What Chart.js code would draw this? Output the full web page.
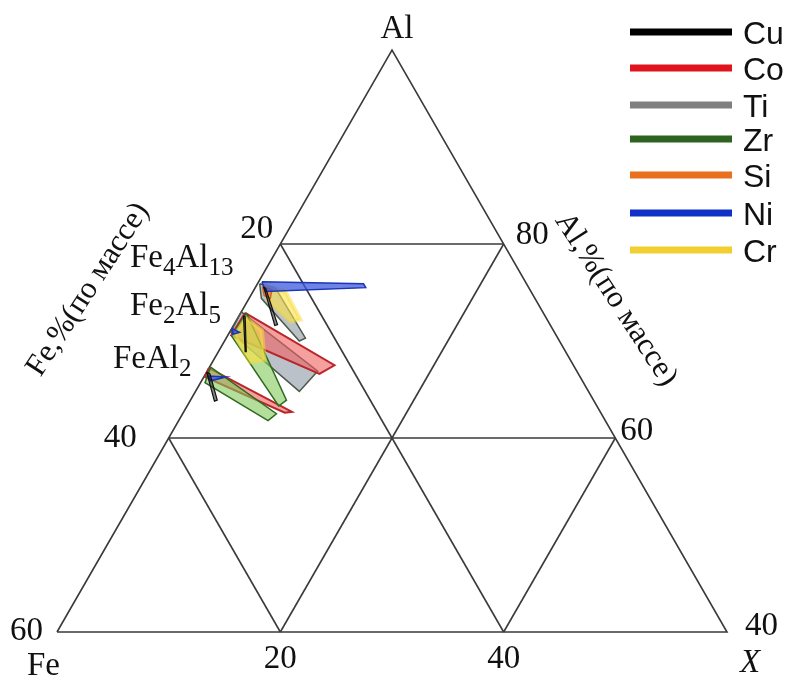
<!DOCTYPE html>
<html>
<head>
<meta charset="utf-8">
<script src="https://cdn.jsdelivr.net/npm/chart.js@4"></script>
<style>
body { margin: 0; background: #fff; }
</style>
</head>
<body>
<canvas id="ternary" width="792" height="680"></canvas>
<script>
// every point is [Al, X] in mass %, Fe = 100 - Al - X
var elements = ["Cu", "Co", "Ti", "Zr", "Si", "Ni", "Cr"];

var Cu = [
  [[75.6, 0.7], [75.4, 1.0], [71.7, 3.9], [71.6, 3.7]],
  [[72.6, 0.4], [72.5, 0.6], [68.9, 2.5], [68.9, 2.4]],
  [[66.8, 0.0], [66.6, 0.4], [63.9, 2.4], [63.8, 2.2]]
];
var Co = [
  [[72.9, 0.4], [67.5, 11.1], [66.6, 10.2], [70.6, 0.3]],
  [[67.2, 0.0], [62.7, 9.7], [62.6, 9.1], [66.3, 0.1]]
];
var Ti = [
  [[75.9, 0.2], [75.4, 1.9], [70.3, 7.1], [70.0, 6.7], [74.4, 1.1]],
  [[73.0, 0.0], [66.9, 9.9], [64.8, 9.3], [70.9, 0.1]]
];
var Zr = [
  [[72.9, 0.5], [63.9, 8.6], [63.3, 8.2], [70.5, 0.4]],
  [[67.3, 0.1], [62.5, 8.4], [61.8, 8.0], [65.7, 0.4]]
];
var Si = [
  [[75.6, 0.6], [75.3, 1.6], [74.4, 1.9], [74.7, 1.2]]
];
var Ni = [
  [[76.1, 0.3], [75.9, 9.5], [75.5, 9.9], [75.1, 1.1]],
  [[71.3, 0.0], [70.9, 0.9], [70.7, 0.4]],
  [[66.4, 0.3], [66.3, 2.0], [65.9, 0.8]]
];
var Cr = [
  [[75.8, 0.6], [75.1, 2.9], [72.2, 5.7], [72.0, 4.9], [74.2, 1.8]],
  [[72.4, 0.7], [71.1, 2.8], [68.0, 4.6], [67.8, 3.4], [70.6, 0.6]]
];

var gridAl = [80, 60];
var gridX = [20, 40];
var gridFe = [20, 40];
var feTicks = ["20", "40", "60"];
var alTicks = ["80", "60", "40"];
var xTicks = ["20", "40"];

var styles = {
  Cu: { line: "#111111", fill: "rgba(20,20,20,0.5)", width: 1.2, legend: "#000000" },
  Co: { line: "#b8262a", fill: "rgba(240,95,95,0.6)", width: 2, legend: "#e0141c" },
  Ti: { line: "#4d5a4a", fill: "rgba(150,160,172,0.65)", width: 1.5, legend: "#7f7f7f" },
  Zr: { line: "#2f6a1e", fill: "rgba(130,200,90,0.6)", width: 1.5, legend: "#2e6420" },
  Si: { line: "#d8641c", fill: "rgba(235,120,40,0.6)", width: 1.5, legend: "#e8701e" },
  Ni: { line: "#1c34b8", fill: "rgba(60,90,220,0.75)", width: 1.5, legend: "#1030c8" },
  Cr: { line: "rgba(245,220,60,0.5)", fill: "rgba(250,225,70,0.6)", width: 4, legend: "#f2cf30" }
};
var series = { Cu: Cu, Co: Co, Ti: Ti, Zr: Zr, Si: Si, Ni: Ni, Cr: Cr };

var SQ3 = Math.sqrt(3) / 2;
function toXY(al, x) {
  return { x: x + (al - 40) / 2, y: (al - 40) * SQ3 };
}
function path(pts, close) {
  var out = pts.map(function (p) { return toXY(p[0], p[1]); });
  if (close) out.push(out[0]);
  return out;
}

var datasets = [];
// top of the stack first
["Cu", "Ni", "Si", "Cr", "Zr", "Co", "Ti"].forEach(function (el) {
  var st = styles[el];
  series[el].forEach(function (p) {
    datasets.push({
      label: el,
      data: path(p, true),
      borderColor: st.line,
      backgroundColor: st.fill,
      borderWidth: st.width,
      fill: "shape",
      pointRadius: 0,
      tension: 0,
      clip: false
    });
  });
});

var gridLines = [[[40, 0], [100, 0], [40, 60], [40, 0]]];
gridAl.forEach(function (a) { gridLines.push([[a, 0], [a, 100 - a]]); });
gridX.forEach(function (v) { gridLines.push([[40, v], [100 - v, v]]); });
gridFe.forEach(function (f) { gridLines.push([[100 - f, 0], [40, 60 - f]]); });
gridLines.forEach(function (g) {
  datasets.push({
    data: path(g, false),
    borderColor: "#3a3a3a",
    borderWidth: 1.6,
    fill: false,
    pointRadius: 0,
    tension: 0,
    clip: false
  });
});

function formula(ctx, parts, x, y) {
  parts.forEach(function (p) {
    ctx.font = p[1] ? "25px 'Liberation Serif'" : "33px 'Liberation Serif'";
    ctx.fillText(p[0], x, y + (p[1] ? 8 : 0));
    x += ctx.measureText(p[0]).width;
  });
}

var textPlugin = {
  id: "ternaryText",
  afterDraw: function (chart) {
    var ctx = chart.ctx;
    var sx = chart.scales.x, sy = chart.scales.y;
    function at(al, x) {
      var p = toXY(al, x);
      return [sx.getPixelForValue(p.x), sy.getPixelForValue(p.y)];
    }
    ctx.save();
    ctx.fillStyle = "#111";
    ctx.textBaseline = "alphabetic";
    ctx.font = "33px 'Liberation Serif'";

    var p = at(100, 0);
    ctx.textAlign = "center";
    ctx.fillText("Al", p[0] + 5, p[1] - 12);

    // Fe ticks on the left side
    ctx.textAlign = "right";
    p = at(80, 0); ctx.fillText(feTicks[0], p[0] - 7, p[1] - 6);
    p = at(60, 0); ctx.fillText(feTicks[1], p[0] - 32, p[1] + 9);
    p = at(40, 0); ctx.fillText(feTicks[2], p[0] - 14, p[1] + 8);

    // Al ticks on the right side
    ctx.textAlign = "left";
    p = at(80, 20); ctx.fillText(alTicks[0], p[0] + 12, p[1]);
    p = at(60, 40); ctx.fillText(alTicks[1], p[0] + 5, p[1] + 2);
    p = at(40, 60); ctx.fillText(alTicks[2], p[0] + 18, p[1] + 3);

    // X ticks on the bottom
    ctx.textAlign = "center";
    p = at(40, 20); ctx.fillText(xTicks[0], p[0], p[1] + 36);
    p = at(40, 40); ctx.fillText(xTicks[1], p[0], p[1] + 36);

    ctx.textAlign = "left";
    p = at(40, 0); ctx.fillText("Fe", p[0] - 30, p[1] + 43);
    ctx.font = "italic 33px 'Liberation Serif'";
    p = at(40, 60); ctx.fillText("X", p[0] + 13, p[1] + 40);

    // axis titles
    ctx.font = "31px 'Liberation Serif'";
    ctx.textAlign = "center";
    ctx.save();
    ctx.translate(95, 294);
    ctx.rotate(-57 * Math.PI / 180);
    ctx.fillText("Fe,%(по массе)", 0, 0);
    ctx.restore();
    ctx.save();
    ctx.translate(609, 304);
    ctx.rotate(57 * Math.PI / 180);
    ctx.fillText("Al,%(по массе)", 0, 0);
    ctx.restore();

    // phase names
    ctx.textAlign = "left";
    formula(ctx, [["Fe", 0], ["4", 1], ["Al", 0], ["13", 1]], 130, 267);
    formula(ctx, [["Fe", 0], ["2", 1], ["Al", 0], ["5", 1]], 130, 315);
    formula(ctx, [["FeAl", 0], ["2", 1]], 113, 368);

    // legend
    var legendY = [32, 68, 105, 139, 175, 213, 250];
    ctx.font = "32px 'Liberation Sans'";
    elements.forEach(function (el, i) {
      ctx.fillStyle = styles[el].legend;
      ctx.fillRect(630, legendY[i] - 3.5, 102, 7);
      ctx.fillStyle = "#111";
      ctx.fillText(el, 743, legendY[i] + 12);
    });
    ctx.restore();
  }
};

var chart = new Chart(document.getElementById("ternary").getContext("2d"), {
  type: "line",
  data: { datasets: datasets },
  options: {
    responsive: false,
    animation: false,
    layout: { padding: { left: 57, right: 65, top: 50, bottom: 48 } },
    scales: {
      x: { type: "linear", min: 0, max: 60, display: false },
      y: { type: "linear", min: 0, max: 60 * SQ3, display: false }
    },
    plugins: { legend: { display: false }, tooltip: { enabled: false } }
  },
  plugins: [textPlugin]
});
</script>
</body>
</html>
